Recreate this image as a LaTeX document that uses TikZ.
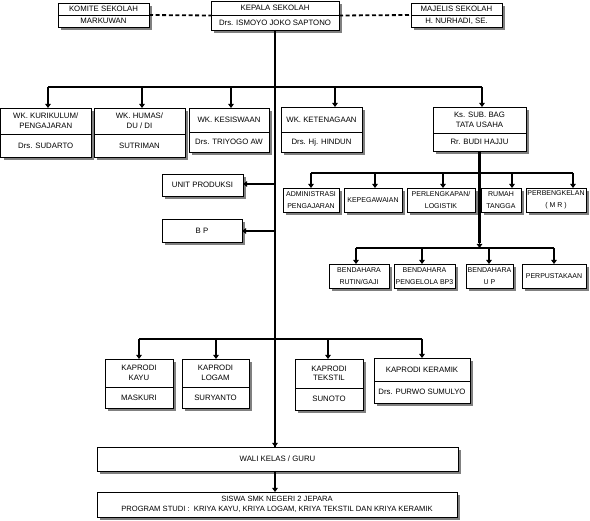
\documentclass[tikz,border=0pt]{standalone}
\usepackage{fontspec}
\setmainfont{Liberation Sans}
\usetikzlibrary{arrows.meta,shadows}
\definecolor{shadowgray}{RGB}{128,128,128}
\newcommand\orgtwo[8]{%
  \node[box, anchor=north west, minimum width={(#4-#2)*1pt}, minimum height={(#5-#3)*1pt}] (#1) at (#2,#3) {};
  \draw[divline] (#2,#6) -- (#4,#6);
  \node[align=center] (#1-a) at ({(#2+#4)/2},{(#3+#6)/2}) {#7};
  \node[align=center] (#1-b) at ({(#2+#4)/2},{(#6+#5)/2}) {#8};}
\newcommand\orgone[6]{%
  \node[box, align=center, minimum width={(#4-#2)*1pt}, minimum height={(#5-#3)*1pt}] (#1) at ({(#2+#4)/2},{(#3+#5)/2}) {#6};}
\begin{document}
\begin{tikzpicture}[x=1pt,y=-1pt,
  every node/.style={font=\fontsize{7.8}{9.6}\selectfont, inner sep=0pt, outer sep=0pt},
  small/.style={font=\fontsize{7}{12}\selectfont},
  box/.style={draw, fill=white, line width=0.8pt, general shadow={fill=shadowgray, shadow xshift=3pt, shadow yshift=-3pt}},
  divline/.style={line width=0.8pt},
  bus/.style={line width=1.1pt},
  arr/.style={line width=1.6pt, -{Triangle[length=4pt,width=5.5pt]}},
  mainline/.style={line width=2.6pt},
  dashline/.style={line width=1.8pt, dash pattern=on 4pt off 2.6pt}]
\useasboundingbox (0,0) rectangle (590,521);

% top row
\orgtwo{komite}{58}{3}{149}{27}{15}{KOMITE SEKOLAH}{MARKUWAN}
\orgtwo{kepala}{211}{1}{339}{30}{15}{KEPALA SEKOLAH}{Drs. ISMOYO JOKO SAPTONO}
\orgtwo{majelis}{411}{3}{502}{27}{15.5}{MAJELIS SEKOLAH}{H. NURHADI, SE.}

% second row
\orgtwo{kur}{0.5}{108}{91}{157}{134}{WK. KURIKULUM/\\PENGAJARAN}{Drs. SUDARTO}
\orgtwo{humas}{94}{108}{185}{157}{134}{WK. HUMAS/\\DU / DI}{SUTRIMAN}
\orgtwo{kesis}{189}{108}{269}{152}{132}{WK. KESISWAAN}{Drs. TRIYOGO AW}
\orgtwo{keten}{281}{107}{362}{152}{132}{WK. KETENAGAAN}{Drs. Hj. HINDUN}
\orgtwo{tu}{433}{107}{526}{151}{133}{Ks. SUB. BAG\\TATA USAHA}{Rr. BUDI HAJJU}

% side units
\orgone{unitp}{162}{174}{243}{196}{UNIT PRODUKSI}
\orgone{bp}{162}{219}{242}{242}{B P}

% tata usaha sections
\begin{scope}[every node/.append style={small}]
\orgone{adm}{283}{188}{339}{212}{ADMINISTRASI\\PENGAJARAN}
\orgone{kepeg}{344}{188}{402}{212}{KEPEGAWAIAN}
\orgone{perl}{407}{188}{475}{212}{PERLENGKAPAN/\\LOGISTIK}
\orgone{rumah}{481}{188}{521}{212}{RUMAH\\TANGGA}
\orgone{bengkel}{526}{188}{586}{212}{PERBENGKELAN\\( M R )}
\orgone{rutin}{329}{264}{389}{288}{BENDAHARA\\RUTIN/GAJI}
\orgone{bpt}{394}{264}{455}{288}{BENDAHARA\\PENGELOLA BP3}
\orgone{up}{466}{264}{513}{288}{BENDAHARA\\U P}
\orgone{perpus}{522}{264}{586}{288}{PERPUSTAKAAN}
\end{scope}

% kaprodi
\orgtwo{kayu}{105}{359}{173}{408}{387}{KAPRODI\\KAYU}{MASKURI}
\orgtwo{logam}{182}{359}{249}{408}{387}{KAPRODI\\LOGAM}{SURYANTO}
\orgtwo{tekstil}{295}{359}{363}{410}{388}{KAPRODI\\TEKSTIL}{SUNOTO}
\orgtwo{keramik}{374}{358}{470}{403}{381}{KAPRODI KERAMIK}{Drs. PURWO SUMULYO}

% bottom
\orgone{wali}{97}{447}{458}{471}{WALI KELAS / GURU}
\node[box, align=center, font=\fontsize{7.6}{10}\selectfont, minimum width=360pt, minimum height=25pt] (siswa) at (277,504.5)
  {SISWA SMK NEGERI 2 JEPARA\\PROGRAM STUDI :\ \ KRIYA KAYU, KRIYA LOGAM, KRIYA TEKSTIL DAN KRIYA KERAMIK};

% dashed links
\draw[dashline] (komite.east) -- (kepala.west);
\draw[dashline] (kepala.east) -- (majelis.west);

% main line
\draw[mainline] (kepala.south) -- (kepala.south |- wali.north);
\draw[arr] ([yshift=6pt]kepala.south |- wali.north) -- (kepala.south |- wali.north);
\draw[mainline] (kepala.south |- wali.south) -- ([yshift=6pt]kepala.south |- siswa.north);
\draw[arr] ([yshift=7pt]kepala.south |- siswa.north) -- (kepala.south |- siswa.north);

% bus to vice heads
\coordinate (b1a) at (48,87);
\coordinate (b1e) at (482,87);
\draw[bus] (b1a) -- (b1e);
\foreach \x/\n in {48/kur,142/humas,231/kesis,335/keten,482/tu}{
  \coordinate (c\n) at (\x,87);
  \draw[arr] (c\n) -- (c\n |- \n.north);
}

% side arrows
\coordinate (cup) at (275,184);
\draw[arr] (cup) -- (cup -| unitp.east);
\coordinate (cbp) at (275,231);
\draw[arr] (cbp) -- (cbp -| bp.east);

% TU sections
\coordinate (b3a) at (311,173);
\coordinate (b3e) at (573,173);
\draw[bus] (b3a) -- (b3e);
\foreach \x/\n in {311/adm,375/kepeg,443/perl,512/rumah,573/bengkel}{
  \coordinate (d\n) at (\x,173);
  \draw[arr] (d\n) -- (d\n |- \n.north);
}
\coordinate (b4a) at (356,248);
\coordinate (b4e) at (554,248);
\draw[bus] (b4a) -- (b4e);
\draw[mainline] (tu.south) -- ([yshift=5pt]tu.south |- b4a);
\draw[arr] ([yshift=6pt]tu.south |- b4a) -- (tu.south |- b4a);
\foreach \x/\n in {356/rutin,422/bpt,489/up,554/perpus}{
  \coordinate (e\n) at (\x,248);
  \draw[arr] (e\n) -- (e\n |- \n.north);
}

% kaprodi bus
\coordinate (b5a) at (139,339);
\coordinate (b5e) at (422,339);
\draw[bus] (b5a) -- (b5e);
\foreach \x/\n in {139/kayu,216/logam,328/tekstil,422/keramik}{
  \coordinate (f\n) at (\x,339);
  \draw[arr] (f\n) -- (f\n |- \n.north);
}
\end{tikzpicture}
\end{document}
